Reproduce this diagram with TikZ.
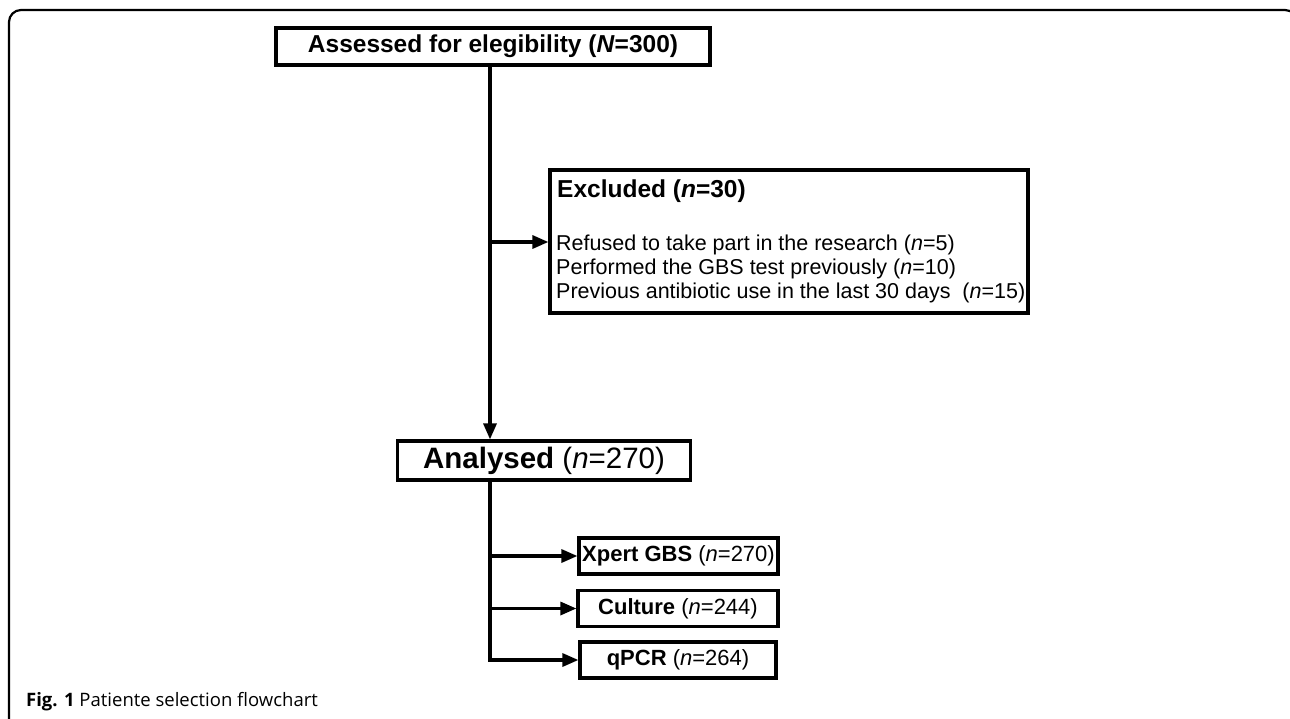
\documentclass[tikz,border=0pt]{standalone}
\usepackage{fontspec}
\setmainfont{Liberation Sans}
\newfontfamily\capfont{Open Sans}
\usetikzlibrary{arrows.meta}
\begin{document}
\begin{tikzpicture}[x=1pt,y=-1pt,
  box/.style={draw=black,line width=3.2pt,inner sep=0pt},
  conn/.style={draw=black,line width=3.2pt,-{Triangle[length=16pt,width=13pt]}},
  lbl/.style={anchor=base west,inner sep=0pt},
  big/.style={font=\fontsize{24.5}{29}\selectfont},
  huge/.style={font=\fontsize{29.5}{34}\selectfont},
  mid/.style={font=\fontsize{22}{26}\selectfont},
  small/.style={font=\fontsize{21.5}{24}\selectfont}]
\useasboundingbox (0,0) rectangle (1290,718);
\fill[white] (0,0) rectangle (1290,718);
\draw[line width=2.2pt,rounded corners=12pt] (9,780) -- (9,10) -- (1297,10) -- (1297,780);

\coordinate (t) at (490,0);

\node[box,big,minimum width=434pt,minimum height=37pt] (assess) at (493,46.5)
  {\bfseries Assessed for elegibility (\textit{N}=300)};

\node[box,minimum width=478pt,minimum height=143pt] (excl) at (789,241.5) {};
\node[lbl,big] (exh) at (557,197) {\bfseries Excluded (\textit{n}=30)};
\node[lbl,small] (ex1) at (556,250) {Refused to take part in the research (\textit{n}=5)};
\node[lbl,small] (ex2) at (556,274) {Performed the GBS test previously (\textit{n}=10)};
\node[lbl,small] (ex3) at (556,298) {Previous antibiotic use in the last 30 days\ \ (\textit{n}=15)};

\node[box,huge,minimum width=293pt,minimum height=39pt] (anal) at (544,460.5)
  {\textbf{Analysed} (\textit{n}=270)};

\node[box,mid,minimum width=199pt,minimum height=36pt] (xpert) at (678.5,556)
  {\textbf{Xpert GBS} (\textit{n}=270)};
\node[box,mid,minimum width=200pt,minimum height=36pt] (cult) at (678,608.5)
  {\textbf{Culture} (\textit{n}=244)};
\node[box,mid,minimum width=196pt,minimum height=36pt] (qpcr) at (678,660)
  {\textbf{qPCR} (\textit{n}=264)};

\coordinate (b1) at (490,242);
\draw[conn] (assess.south -| t) -- (anal.north -| t);
\draw[conn] (t |- b1) -- (excl.west |- b1);
\draw[conn] (anal.south -| t) |- (qpcr.west);
\draw[conn] (t |- xpert.west) -- (xpert.west);
\draw[conn] (t |- cult.west) -- (cult.west);

\node[anchor=base west,inner sep=0pt,font=\capfont\fontsize{18.5}{22}\selectfont] (cap) at (26,706)
  {\textbf{Fig. 1} Patiente selection flowchart};
\end{tikzpicture}
\end{document}
